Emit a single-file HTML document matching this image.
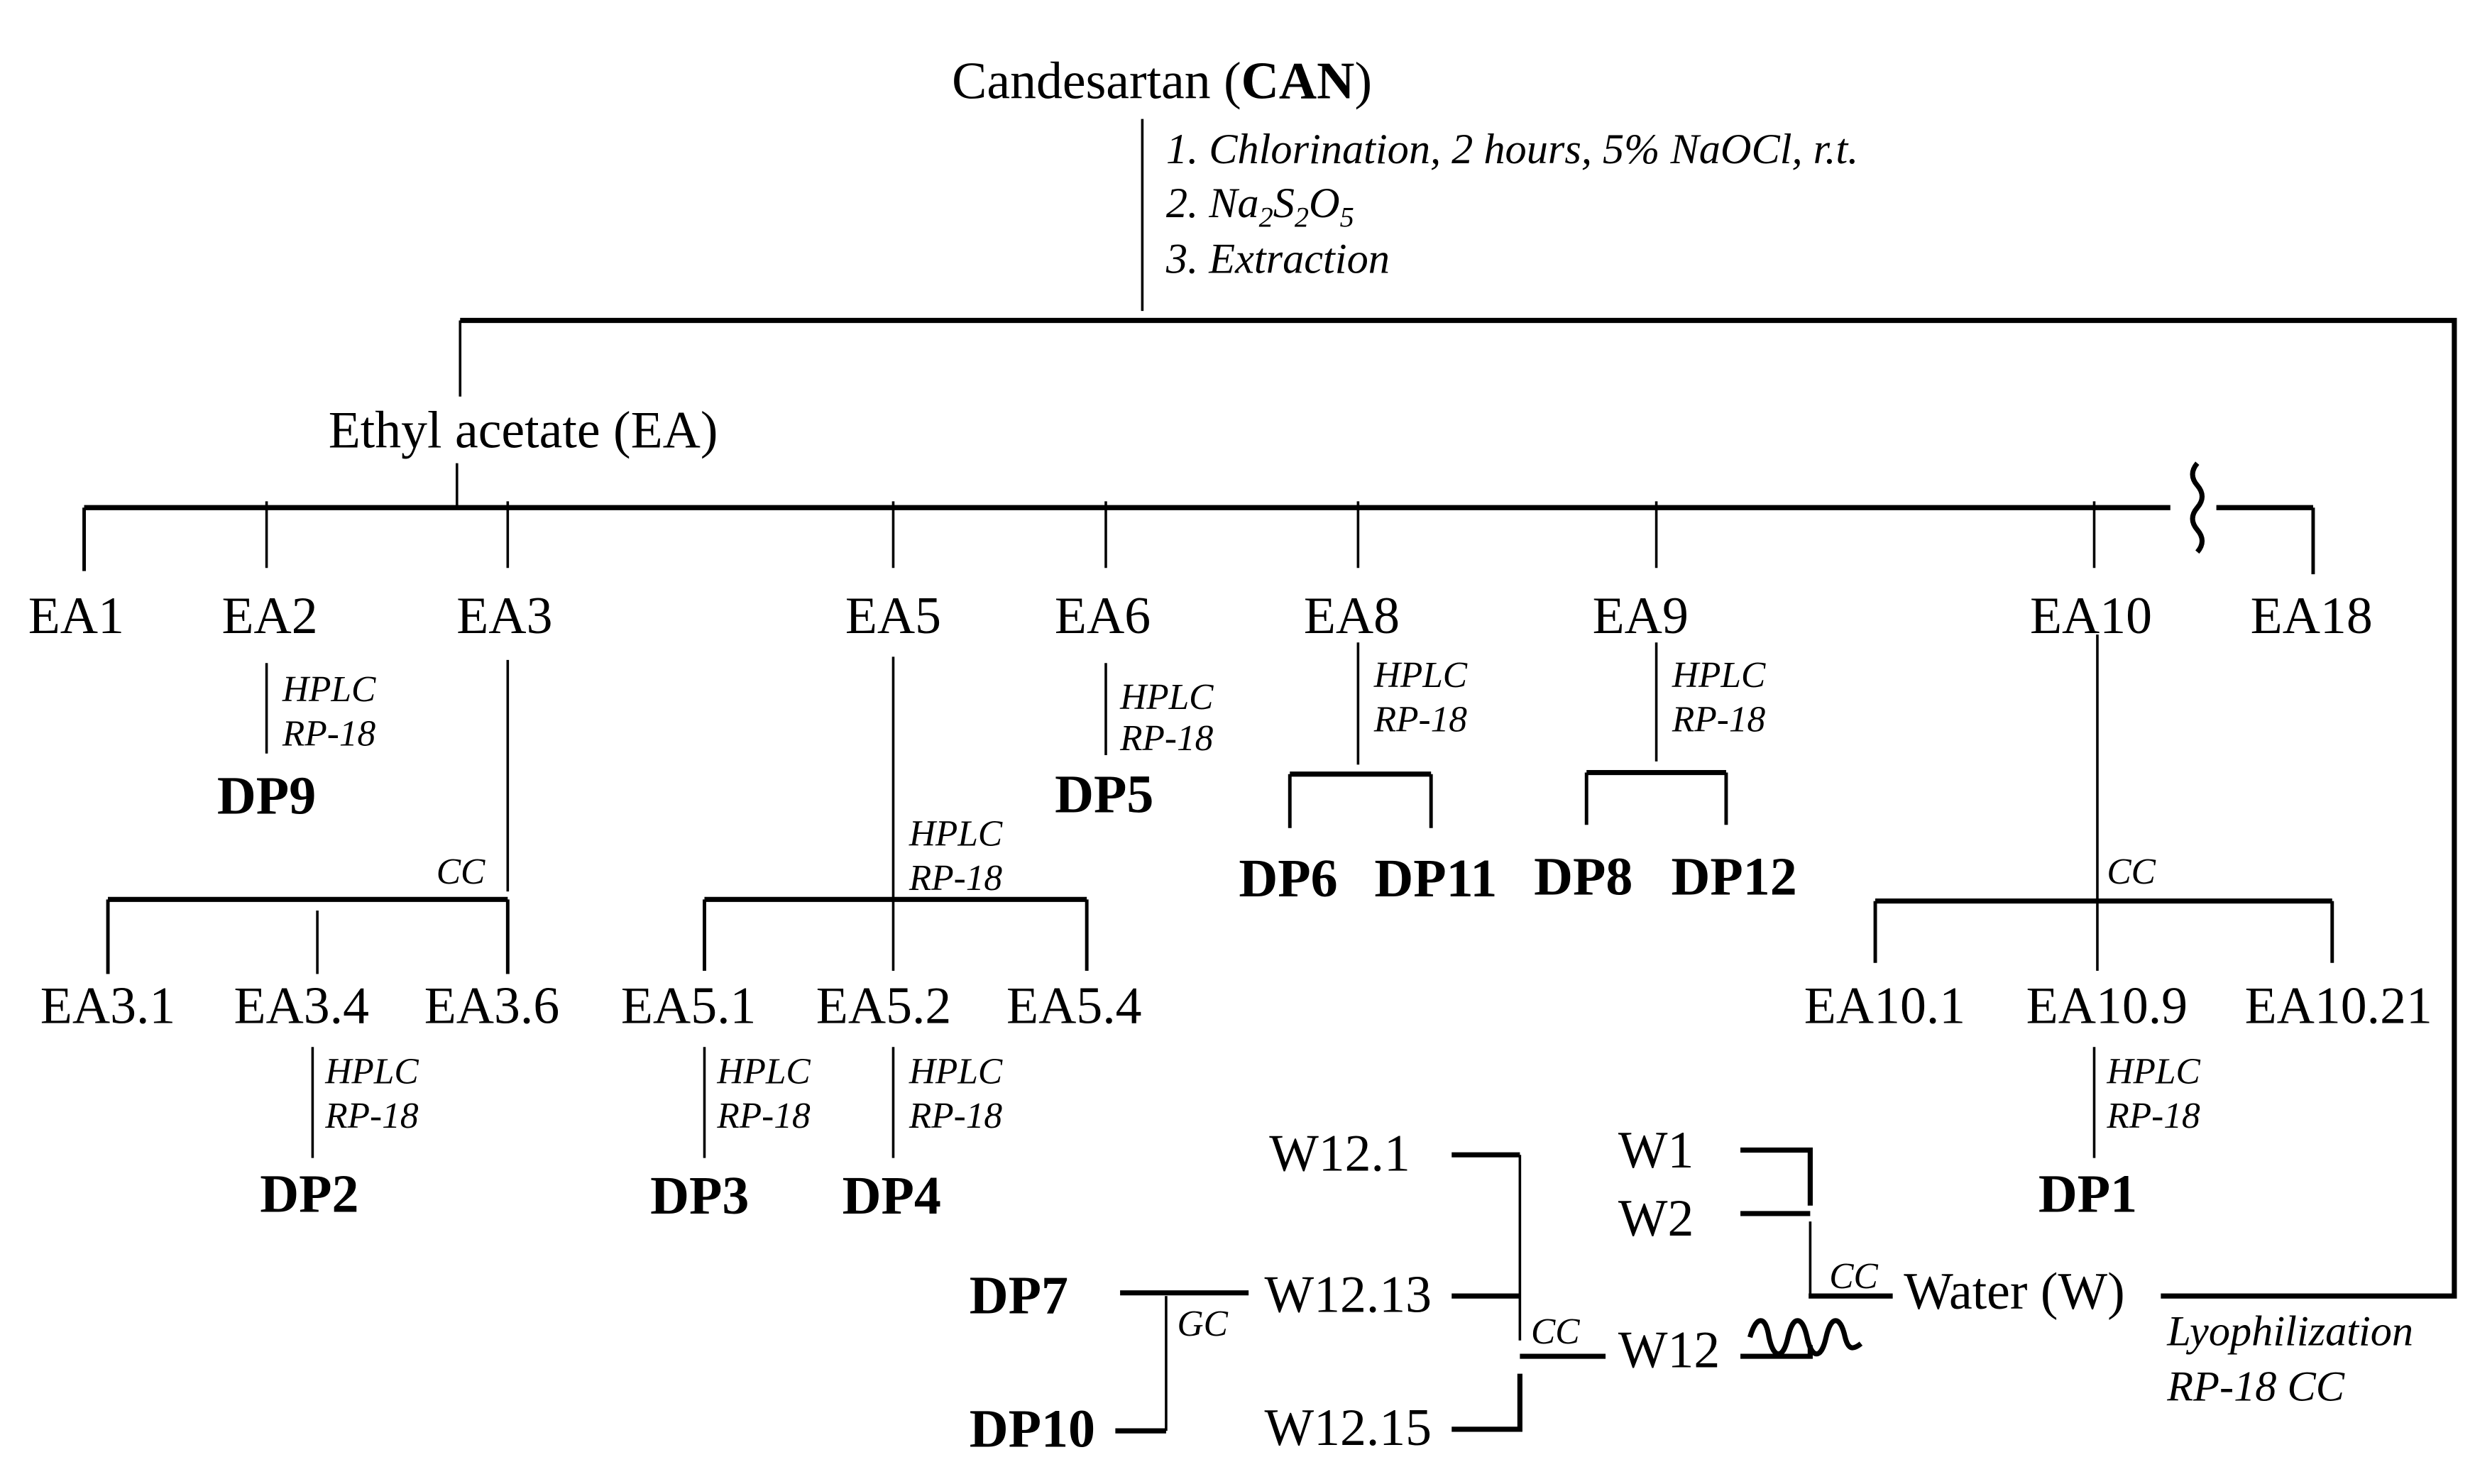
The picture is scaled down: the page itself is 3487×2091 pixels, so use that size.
<!DOCTYPE html>
<html><head><meta charset="utf-8"><style>
html,body{margin:0;padding:0;background:#fff;}
svg{display:block;}
text{font-family:"Liberation Serif",serif;fill:#000;}
.n{font-size:33px;}
.b{font-size:34px;font-weight:bold;}
.i{font-size:23px;font-style:italic;}
.c{font-size:27px;font-style:italic;}
.t{stroke:#000;stroke-width:3.2;fill:none;}
.m{stroke:#000;stroke-width:2.2;fill:none;}
.h{stroke:#000;stroke-width:1.6;fill:none;}
</style></head><body>
<svg width="3487" height="2091" viewBox="0 0 1560 935.5" xmlns="http://www.w3.org/2000/svg">
<text class="n" x="600" y="62">Candesartan (<tspan font-weight="bold">CAN</tspan>)</text>
<line class="h" x1="720" y1="75" x2="720" y2="196"/>
<text class="c" x="735" y="103">1. Chlorination, 2 hours, 5% NaOCl, r.t.</text>
<text class="c" x="735" y="137">2. Na<tspan font-size="18" dy="6">2</tspan><tspan dy="-6">S</tspan><tspan font-size="18" dy="6">2</tspan><tspan dy="-6">O</tspan><tspan font-size="18" dy="6">5</tspan></text>
<text class="c" x="735" y="172">3. Extraction</text>
<path class="t" d="M290 202 H1547 V817 H1362"/>
<line class="h" x1="290" y1="202" x2="290" y2="250"/>
<text class="n" x="207" y="282">Ethyl acetate (EA)</text>
<line class="h" x1="288" y1="292" x2="288" y2="320"/>
<path class="t" d="M53 320 H1368 M1397 320 H1458"/>
<path class="m" d="M53 320 V360 M1458 320 V362"/>
<path class="t" d="M1385 292 q-6 7 0 14 q6 7 0 14 q-6 7 0 14 q6 7 0 14"/>
<g class="h">
<line x1="168" y1="316" x2="168" y2="358"/><line x1="320" y1="316" x2="320" y2="358"/>
<line x1="563" y1="316" x2="563" y2="358"/><line x1="697" y1="316" x2="697" y2="358"/>
<line x1="856" y1="316" x2="856" y2="358"/><line x1="1044" y1="316" x2="1044" y2="358"/>
<line x1="1320" y1="316" x2="1320" y2="358"/>
</g>
<g class="n" text-anchor="middle">
<text x="48" y="399">EA1</text><text x="170" y="399">EA2</text><text x="318" y="399">EA3</text>
<text x="563" y="399">EA5</text><text x="695" y="399">EA6</text><text x="852" y="399">EA8</text>
<text x="1034" y="399">EA9</text><text x="1318" y="399">EA10</text><text x="1457" y="399">EA18</text>
<text x="68" y="645">EA3.1</text><text x="190" y="645">EA3.4</text><text x="310" y="645">EA3.6</text>
<text x="434" y="645">EA5.1</text><text x="557" y="645">EA5.2</text><text x="677" y="645">EA5.4</text>
<text x="1188" y="645">EA10.1</text><text x="1328" y="645">EA10.9</text><text x="1474" y="645">EA10.21</text>
</g>
<g class="b" text-anchor="middle">
<text x="168" y="513">DP9</text><text x="696" y="512">DP5</text>
<text x="812" y="565">DP6</text><text x="905" y="565">DP11</text>
<text x="998" y="564">DP8</text><text x="1093" y="564">DP12</text>
<text x="195" y="764">DP2</text><text x="441" y="765">DP3</text><text x="562" y="765">DP4</text>
<text x="1316" y="764">DP1</text>
</g>
<g class="h">
<line x1="168" y1="418" x2="168" y2="475"/>
<line x1="320" y1="416" x2="320" y2="562"/>
<line x1="200" y1="574" x2="200" y2="614"/>
<line x1="197" y1="660" x2="197" y2="730"/>
<line x1="563" y1="414" x2="563" y2="612"/>
<line x1="444" y1="660" x2="444" y2="730"/>
<line x1="563" y1="660" x2="563" y2="730"/>
<line x1="697" y1="418" x2="697" y2="476"/>
<line x1="856" y1="405" x2="856" y2="482"/>
<line x1="1044" y1="405" x2="1044" y2="480"/>
<line x1="1322" y1="400" x2="1322" y2="612"/>
<line x1="1320" y1="660" x2="1320" y2="730"/>
</g>
<path class="t" d="M68 567 H320 M444 567 H685 M813 488 H902 M1000 487 H1088 M1182 568 H1470"/>
<path class="m" d="M68 614 V567 M320 567 V614 M444 612 V567 M685 567 V612 M813 522 V488 M902 488 V522 M1000 520 V487 M1088 487 V520 M1182 607 V568 M1470 568 V607"/>
<g class="i">
<text x="178" y="442">HPLC</text><text x="178" y="470">RP-18</text>
<text x="275" y="557">CC</text>
<text x="205" y="683">HPLC</text><text x="205" y="711">RP-18</text>
<text x="573" y="533">HPLC</text><text x="573" y="561">RP-18</text>
<text x="452" y="683">HPLC</text><text x="452" y="711">RP-18</text>
<text x="573" y="683">HPLC</text><text x="573" y="711">RP-18</text>
<text x="706" y="447">HPLC</text><text x="706" y="473">RP-18</text>
<text x="866" y="433">HPLC</text><text x="866" y="461">RP-18</text>
<text x="1054" y="433">HPLC</text><text x="1054" y="461">RP-18</text>
<text x="1328" y="557">CC</text>
<text x="1328" y="683">HPLC</text><text x="1328" y="711">RP-18</text>
<text x="1153" y="812">CC</text>
<text x="965" y="847">CC</text>
<text x="742" y="842">GC</text>
</g>
<text class="n" x="1200" y="825">Water (W)</text>
<text class="c" x="1366" y="848">Lyophilization</text>
<text class="c" x="1366" y="883">RP-18 CC</text>
<text class="n" x="1020" y="736">W1</text>
<text class="n" x="1020" y="779">W2</text>
<text class="n" x="1020" y="862">W12</text>
<text class="n" x="800" y="738">W12.1</text>
<text class="n" x="797" y="827">W12.13</text>
<text class="n" x="797" y="911">W12.15</text>
<text class="b" x="611" y="828">DP7</text>
<text class="b" x="611" y="912">DP10</text>
<path class="t" d="M1097 725 H1141 V760 M1097 765 H1141 M1140 817 H1193 M1097 855 H1141 V848"/>
<line class="h" x1="1141" y1="770" x2="1141" y2="817"/>
<path class="t" d="M1103 843 c4 -14 10 -14 12 0 c3 14 9 14 12 0 c3 -14 9 -14 12 0 c3 14 9 14 12 0 c3 -14 9 -14 12 0 c2 8 5 8 10 4"/>
<path class="t" d="M915 728 H958 M915 817 H958 M915 901 H958 V866 M958 855 H1012"/>
<line class="h" x1="958" y1="728" x2="958" y2="845"/>
<path class="t" d="M706 815 H787 M703 902 H735"/>
<line class="h" x1="735" y1="817" x2="735" y2="902"/>
</svg>
</body></html>
